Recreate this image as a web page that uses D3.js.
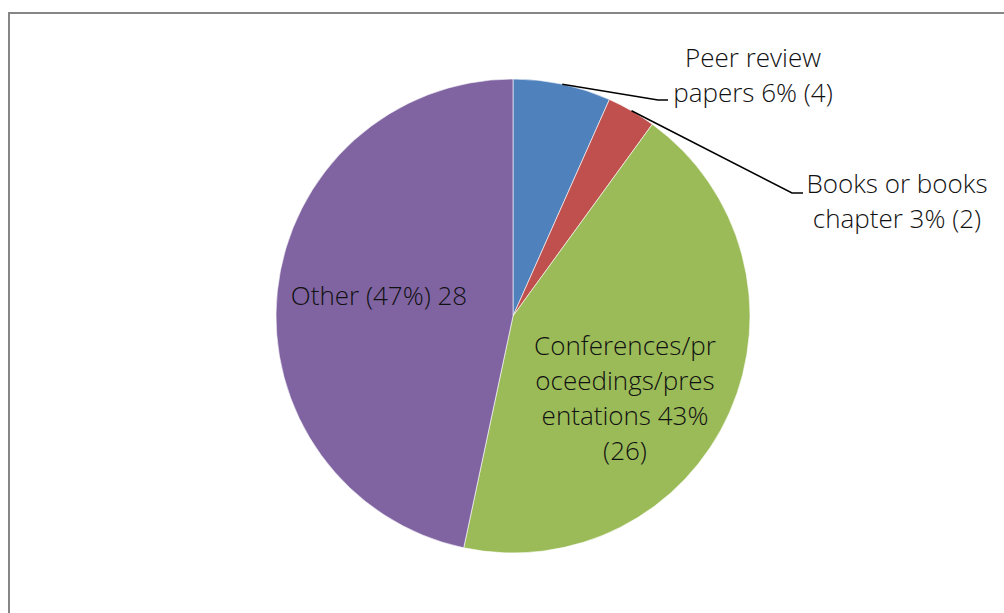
<!DOCTYPE html>
<html>
<head>
<meta charset="utf-8">
<script src="https://cdn.jsdelivr.net/npm/d3@7"></script>
<style>
  body { margin: 0; background: #fff; }
  text { font-family: "Open Sans", sans-serif; font-weight: 300; fill: #111; }
</style>
</head>
<body>
<svg id="chart" width="1004" height="613"></svg>
<script>
// data
var categories = ["Peer review papers", "Books or books chapter", "Conferences/proceedings/presentations", "Other"];
var counts = [4, 2, 26, 28];
var colors = ["#4F81BD", "#C0504D", "#9BBB59", "#8064A2"];
// label text lines as shown in the chart
var labelLines = [
    ["Peer review", "papers 6% (4)"],
    ["Books or books", "chapter 3% (2)"],
    ["Conferences/pr", "oceedings/pres", "entations 43%", "(26)"],
    ["Other (47%) 28"]
];

const cx = 513, cy = 316, radius = 237,
    lineH = 35,
    fontSize = 26;

var svg = d3.select("#chart");

// chart frame (only left + top visible)
svg.append("rect")
    .attr("x", 9)
    .attr("y", 13)
    .attr("width", 1100)
    .attr("height", 700)
    .attr("fill", "none")
    .attr("stroke", "#868686")
    .attr("stroke-width", 2);

var pie = d3.pie().sort(null).value(d => d);
var arcs = pie(counts);

var arc = d3.arc()
    .innerRadius(0)
    .outerRadius(radius);

var g = svg.append("g")
    .attr("transform", "translate(" + cx + "," + cy + ")");

g.selectAll("path")
    .data(arcs)
    .enter().append("path")
    .attr("d", arc)
    .attr("fill", (d, i) => colors[i])
    .attr("stroke", "#fff")
    .attr("stroke-width", 0.6);

// label positions (relative to pie center)
var labelPos = [
    { x: 240, y: -249 },   // peer review
    { x: 384, y: -123 },   // books
    { x: 112, y: 39 },     // conferences
    { x: -134, y: -11 }    // other
];

// leader lines for the two small slices
var leaders = [
    { i: 0, elbow: [145, -216], end: [155, -216], frac: 0.5 },
    { i: 1, elbow: [279, -123], end: [290, -123], frac: 0.5 }
];

leaders.forEach(function (l) {
    var d = arcs[l.i];
    var a = d.startAngle + (d.endAngle - d.startAngle) * l.frac;
    var p = [Math.sin(a) * radius, -Math.cos(a) * radius];
    g.append("polyline")
        .attr("points", [p, l.elbow, l.end].map(q => q.join(",")).join(" "))
        .attr("fill", "none")
        .attr("stroke", "#000")
        .attr("stroke-width", 1.5);
});

labelLines.forEach(function (lines, i) {
    var t = g.append("text")
        .attr("text-anchor", "middle")
        .attr("font-size", fontSize)
        .attr("transform", "translate(" + labelPos[i].x + "," + labelPos[i].y + ")");
    lines.forEach(function (s, k) {
        t.append("tspan")
            .attr("x", 0)
            .attr("y", k * lineH)
            .text(s);
    });
});
</script>
</body>
</html>
